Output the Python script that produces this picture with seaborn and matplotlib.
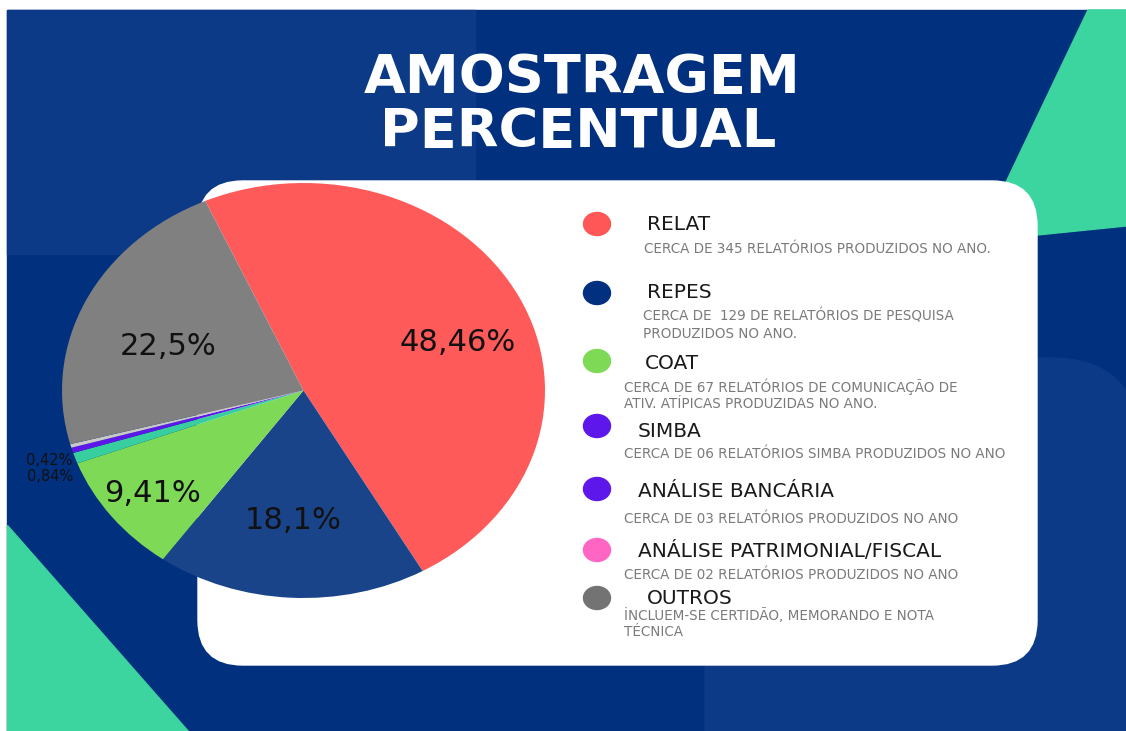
import numpy as np
import matplotlib.pyplot as plt
import seaborn as sns
from matplotlib.patches import FancyBboxPatch, Polygon, Rectangle, Ellipse

sns.set_style("white")
plt.rcParams['font.family'] = ['DejaVu Sans']

# data
categorias = ["RELAT", "REPES", "COAT", "SIMBA", "ANÁLISE BANCÁRIA",
              "ANÁLISE PATRIMONIAL/FISCAL", "OUTROS"]
percentuais = [48.46, 18.1, 9.41, 0.84, 0.42, 0.28, 22.5]
rotulos = ["48,46%", "18,1%", "9,41%", "0,84%", "0,42%", "", "22,5%"]
descricoes = [
    "CERCA DE 345 RELATÓRIOS PRODUZIDOS NO ANO.",
    "CERCA DE  129 DE RELATÓRIOS DE PESQUISA\nPRODUZIDOS NO ANO.",
    "CERCA DE 67 RELATÓRIOS DE COMUNICAÇÃO DE\nATIV. ATÍPICAS PRODUZIDAS NO ANO.",
    "CERCA DE 06 RELATÓRIOS SIMBA PRODUZIDOS NO ANO",
    "CERCA DE 03 RELATÓRIOS PRODUZIDOS NO ANO",
    "CERCA DE 02 RELATÓRIOS PRODUZIDOS NO ANO",
    "İNCLUEM-SE CERTIDÃO, MEMORANDO E NOTA\nTÉCNICA",
]
cores_pizza = sns.color_palette(["#ff5a5a", "#1a4489", "#7ed957", "#38cfa0",
                                 "#5e17eb", "#c9c9c9", "#808080"])
cores_legenda = ["#ff5757", "#013080", "#7ed957", "#5e17eb",
                 "#5e17eb", "#ff66c4", "#737373"]

# layout (pixels)
W, H = 1126, 731
dot_y = [224, 293, 361, 426, 489, 550, 598]
head_x = [647, 647, 645, 638, 638, 638, 647]
head_y = [230, 298, 369, 437, 497, 557, 604]
desc_x = [644, 643, 624, 624, 624, 624, 624]
desc_y = [253, 321, 392, 458, 523, 579, 620]

fig = plt.figure(figsize=(W / 100, H / 100), dpi=100, facecolor="white")

# background
bg = fig.add_axes([0, 0, 1, 1])
bg.set_xlim(0, W)
bg.set_ylim(H, 0)
bg.axis("off")
navy = "#01307f"
navy2 = "#0d3a86"
verde = "#3cd5a0"
bg.add_patch(Rectangle((7, 10), W, H, color=navy, zorder=0))
bg.add_patch(Rectangle((7, 10), 468, 244, color=navy2, zorder=1))
bg.add_patch(FancyBboxPatch((705, 358), 435, 500, boxstyle="round,pad=0,rounding_size=90",
                            color=navy2, zorder=1))
bg.add_patch(Polygon([(7, 525), (7, H), (188, H)], color=verde, zorder=2))
bg.add_patch(Polygon([(1088, 10), (W, 10), (W, 226), (978, 241)], color=verde, zorder=2))
bg.add_patch(FancyBboxPatch((198, 181), 839, 484, boxstyle="round,pad=0,rounding_size=45",
                            color="white", zorder=3))

# title
bg.text(582, 93, "AMOSTRAGEM", color="white", fontsize=39, fontweight="bold",
        ha="center", va="baseline", zorder=5)
bg.text(578, 147, "PERCENTUAL", color="white", fontsize=39, fontweight="bold",
        ha="center", va="baseline", zorder=5)

# legend
for i, cat in enumerate(categorias):
    bg.add_patch(Ellipse((597, dot_y[i]), 27, 23, color=cores_legenda[i], zorder=5))
    bg.text(head_x[i], head_y[i], cat, fontsize=14.5, color="#1a1a1a",
            ha="left", va="baseline", zorder=5)
    for j, linha in enumerate(descricoes[i].split("\n")):
        bg.text(desc_x[i], desc_y[i] + j * 16.5, linha, fontsize=9.75, color="#7a7a7a",
                ha="left", va="baseline", zorder=5)

# pie
ax = fig.add_axes([62 / W, (H - 598) / H, 483 / W, 415 / H])
ax.patch.set_alpha(0)
wedges, _ = ax.pie(percentuais, colors=cores_pizza, startangle=114, counterclock=False,
                   wedgeprops=dict(linewidth=0))
ax.set_aspect("auto")
ax.set_xlim(-1, 1)
ax.set_ylim(-1, 1)
ax.axis("off")

label_r = [0.68, 0.63, 0.8, 1.0, 1.0, 0, 0.6]
label_shift = [-7, -1, 1, 0, 0, 0, 5]
small_dy = {3: -0.08, 4: -0.04}
for i, w in enumerate(wedges):
    if not rotulos[i]:
        continue
    ang = np.deg2rad((w.theta1 + w.theta2) / 2 + label_shift[i])
    if i in small_dy:
        ax.text(-0.955, np.sin(ang) + small_dy[i] - 0.01, rotulos[i], fontsize=10.5,
                color="#111111", ha="right", va="center")
    else:
        ax.text(label_r[i] * np.cos(ang), label_r[i] * np.sin(ang), rotulos[i],
                fontsize=22, color="#111111", ha="center", va="center")

fig.savefig("out.png", dpi=100, facecolor="white")
